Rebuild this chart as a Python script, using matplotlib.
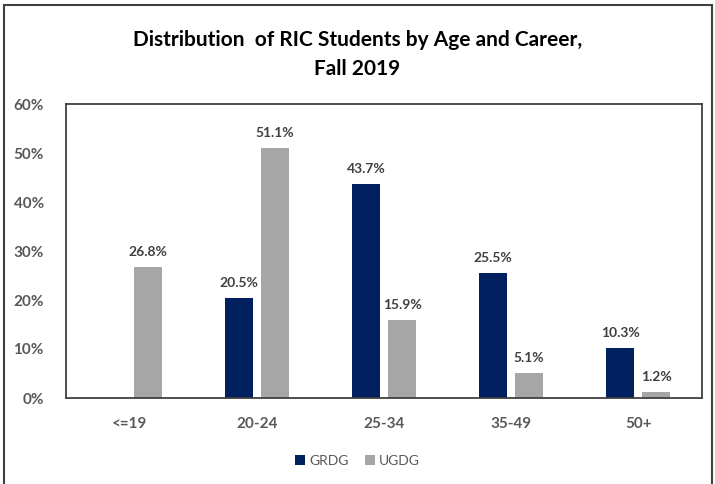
import matplotlib.pyplot as plt
import numpy as np

categories = ['<=19', '20-24', '25-34', '35-49', '50+']
grdg = [0.0, 20.5, 43.7, 25.5, 10.3]
ugdg = [26.8, 51.1, 15.9, 5.1, 1.2]
yticks = [0, 10, 20, 30, 40, 50, 60]

plt.rcParams['font.family'] = ['Lato', 'DejaVu Sans']

fig = plt.figure(figsize=(7.15, 4.84), dpi=100)
ax = fig.add_axes([66/715, 86/484, 636/715, 294/484])

x = np.arange(len(categories))
w = 0.22
off = 0.142
b1 = ax.bar(x - off, grdg, w, color='#002060', label='GRDG')
b2 = ax.bar(x + off, ugdg, w, color='#A6A6A6', label='UGDG')

for xi, v in zip(x, grdg):
    if v > 0:
        ax.text(xi - off, v + 1.8, f'{v:.1f}%', ha='center', va='bottom',
                fontsize=10, fontweight='bold', color='#404040')
for xi, v in zip(x, ugdg):
    ax.text(xi + off, v + 1.8, f'{v:.1f}%', ha='center', va='bottom',
            fontsize=10, fontweight='bold', color='#404040')

ax.set_xlim(-0.5, len(categories) - 0.5)
ax.set_ylim(0, 60)
ax.set_yticks(yticks)
ax.set_yticklabels([f'{t}%' for t in yticks])
ax.set_xticks(x)
ax.set_xticklabels(categories)
ax.tick_params(length=0, labelsize=11, colors='#595959', pad=16)
ax.tick_params(axis='x', pad=14)
for lab in ax.get_xticklabels() + ax.get_yticklabels():
    lab.set_fontweight('bold')
for s in ax.spines.values():
    s.set_color('#404040')
    s.set_linewidth(1.3)

fig.text(0.5, 1 - 40/484, 'Distribution  of RIC Students by Age and Career,',
         ha='center', va='center', fontsize=15, fontweight='bold', color='black')
fig.text(0.5, 1 - 69/484, 'Fall 2019', ha='center', va='center',
         fontsize=15, fontweight='bold', color='black')

leg = fig.legend(handles=[b1, b2], loc='center', bbox_to_anchor=(0.5, 1 - 461/484),
                 ncol=2, frameon=False, fontsize=10, handlelength=0.7,
                 handleheight=0.7, handletextpad=0.3, columnspacing=1.2)
for t in leg.get_texts():
    t.set_color('#595959')

# outer frame of the chart (runs off the right and bottom edges)
fig.patches.append(plt.Rectangle((4/715, -0.02), 0.99, 1 - 5/484 + 0.02,
                                 transform=fig.transFigure, fill=False,
                                 edgecolor='#404040', linewidth=1.5))

fig.savefig('out.png', dpi=100)
